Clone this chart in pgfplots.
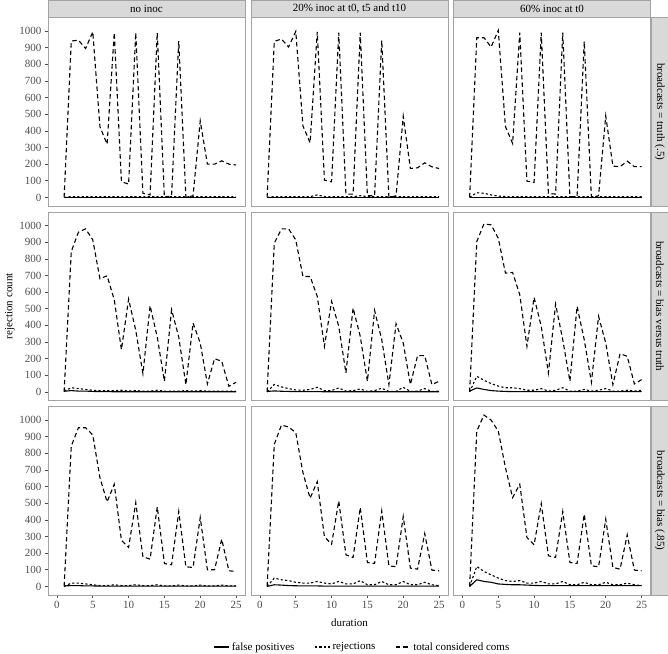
\documentclass[border=0pt]{standalone}
\usepackage{pgfplots}
\pgfplotsset{compat=1.18}
\usepackage{pgfplotstable}
\usepackage{fontspec}
\setmainfont{Liberation Serif}
\definecolor{bordergray}{HTML}{A3A3A3}
\definecolor{stripfill}{HTML}{D9D9D9}
\definecolor{tickgray}{HTML}{4D4D4D}
\newcommand{\fs}{\fontsize{11bp}{13bp}\selectfont}

% columns: d fp rej tot
\pgfplotstableread{
d fp rej tot
1 0 0 0
2 0 5 940
3 0 5 945
4 0 5 895
5 0 5 995
6 0 5 425
7 0 5 320
8 0 5 990
9 0 5 95
10 0 5 80
11 0 5 990
12 0 5 25
13 0 5 15
14 0 5 990
15 0 5 0
16 0 5 10
17 0 5 940
18 0 5 0
19 0 5 10
20 0 5 460
21 0 5 200
22 0 5 200
23 0 5 220
24 0 5 200
25 0 5 195
}\taa
\pgfplotstableread{
d fp rej tot
1 0 0 0
2 0 5 938
3 0 5 952
4 0 5 904
5 0 5 998
6 0 5 430
7 0 5 328
8 0 15 995
9 0 5 104
10 0 5 94
11 0 5 990
12 0 5 20
13 0 5 20
14 0 10 990
15 0 5 10
16 0 5 10
17 0 5 944
18 0 5 0
19 0 5 10
20 0 5 488
21 0 5 174
22 0 5 178
23 0 5 208
24 0 5 184
25 0 5 174
}\tab
\pgfplotstableread{
d fp rej tot
1 0 0 0
2 0 28 960
3 0 25 960
4 0 15 904
5 0 8 1004
6 0 5 426
7 0 5 324
8 0 5 990
9 0 5 98
10 0 5 90
11 0 5 990
12 0 5 24
13 0 5 20
14 0 5 990
15 0 5 5
16 0 5 5
17 0 5 938
18 0 5 0
19 0 5 10
20 0 5 490
21 0 5 188
22 0 5 185
23 0 5 218
24 0 5 185
25 0 5 185
}\tac
\pgfplotstableread{
d fp rej tot
1 4 5 0
2 8 25 844
3 5 20 960
4 5 15 980
5 3 10 914
6 2 8 680
7 2 8 698
8 1 8 554
9 1 10 254
10 1 5 558
11 1 8 370
12 1 5 110
13 1 5 518
14 1 10 330
15 1 5 64
16 1 5 494
17 1 5 330
18 1 8 44
19 1 5 414
20 1 8 294
21 1 5 48
22 1 5 200
23 1 5 184
24 1 5 34
25 1 5 58
}\tba
\pgfplotstableread{
d fp rej tot
1 3 0 0
2 6 45 894
3 4 30 980
4 3 20 980
5 2 12 914
6 2 10 694
7 2 15 694
8 2 28 574
9 1 8 274
10 1 8 544
11 1 24 394
12 1 5 114
13 1 8 504
14 1 18 334
15 1 3 64
16 1 8 490
17 1 22 314
18 1 3 44
19 1 3 410
20 1 28 294
21 1 3 44
22 1 5 218
23 1 20 218
24 1 3 44
25 1 5 64
}\tbb
\pgfplotstableread{
d fp rej tot
1 5 0 0
2 24 94 904
3 15 70 1010
4 8 50 1004
5 5 35 924
6 3 25 714
7 2 25 718
8 2 20 584
9 2 10 274
10 2 10 568
11 2 20 394
12 2 5 114
13 2 10 528
14 2 25 314
15 2 5 64
16 2 5 514
17 2 15 314
18 2 5 58
19 2 10 454
20 2 20 294
21 2 5 44
22 2 5 230
23 2 10 214
24 2 5 48
25 2 10 74
}\tbc
\pgfplotstableread{
d fp rej tot
1 3 0 0
2 5 20 844
3 5 20 954
4 3 15 954
5 3 10 910
6 2 5 654
7 2 5 508
8 2 10 614
9 2 5 278
10 2 5 234
11 2 10 504
12 2 5 178
13 2 5 164
14 2 10 478
15 2 3 138
16 2 3 130
17 2 8 450
18 2 3 118
19 2 3 114
20 2 8 414
21 2 3 100
22 2 3 100
23 2 8 284
24 2 3 94
25 2 3 90
}\tca
\pgfplotstableread{
d fp rej tot
1 0 0 0
2 10 50 854
3 8 40 970
4 5 35 958
5 4 25 924
6 3 20 684
7 3 20 530
8 3 30 630
9 2 20 298
10 2 15 254
11 2 30 514
12 2 15 190
13 2 15 174
14 2 35 474
15 2 10 144
16 2 10 138
17 2 30 454
18 2 10 124
19 2 10 118
20 2 30 420
21 2 10 110
22 2 10 104
23 2 25 318
24 2 10 98
25 2 5 94
}\tcb
\pgfplotstableread{
d fp rej tot
1 0 0 0
2 40 120 934
3 30 90 1030
4 25 70 1000
5 15 50 934
6 12 35 714
7 10 30 534
8 10 35 614
9 8 20 294
10 6 20 250
11 5 30 498
12 5 15 184
13 5 15 174
14 5 30 450
15 5 10 144
16 5 10 138
17 5 25 434
18 5 10 124
19 5 10 118
20 5 25 404
21 5 10 114
22 5 10 104
23 5 20 310
24 5 10 98
25 5 5 94
}\tcc

\pgfplotsset{
  panel/.style={
    scale only axis, width=197bp, height=188.5bp, anchor=south west,
    xmin=-1.25, xmax=26.25, ymin=-51.5, ymax=1081.5,
    axis line style={draw=bordergray, line width=0.7bp},
    tick align=outside, major tick length=3bp,
    xtick={0,5,...,25}, ytick={0,100,...,1000},
    xtick pos=lower, ytick pos=left,
    tick style={draw=tickgray, line width=0.6bp},
    ticklabel style={font=\fs, text=tickgray},
    /pgf/number format/assume math mode=true,
    /pgf/number format/1000 sep={},
    every axis title/.style={at={(0.5,1)}, anchor=south, fill=stripfill, draw=bordergray,
      line width=0.7bp, minimum width=197bp, minimum height=17bp, inner sep=0pt, font=\fs},
  },
  noxl/.style={xticklabels={}, xtick style={draw=none}},
  noyl/.style={yticklabels={}, ytick style={draw=none}},
  rstrip/.style={after end axis/.code={
    \node[rotate=-90, anchor=south, fill=stripfill, draw=bordergray, line width=0.7bp,
      minimum width=188.5bp, minimum height=18bp, inner sep=0pt, font=\fs]
      at (rel axis cs:1,0.5) {#1};}},
  fpst/.style={black, line width=1.1bp, solid, line join=round},
  rejst/.style={black, line width=1.1bp, dash pattern=on 2.2bp off 2.2bp},
  totst/.style={black, line width=1.1bp, dash pattern=on 4.5bp off 3bp},
}
\newcommand{\panel}[1]{%
  \addplot[fpst] table[x=d,y=fp]{#1};
  \addplot[rejst] table[x=d,y=rej]{#1};
  \addplot[totst] table[x=d,y=tot]{#1};
}

\begin{document}
\begin{tikzpicture}
\useasboundingbox (0,0) rectangle (668bp,654bp);
% row 1
\begin{axis}[panel, at={(48bp,448bp)}, noxl, title={no inoc}]
\panel{\taa}
\end{axis}
\begin{axis}[panel, at={(251bp,448bp)}, noxl, noyl, title={20\% inoc at t0, t5 and t10}]
\panel{\tab}
\end{axis}
\begin{axis}[panel, at={(453.5bp,448bp)}, noxl, noyl, title={60\% inoc at t0}, rstrip={broadcasts = truth (.5)}]
\panel{\tac}
\end{axis}
% row 2
\begin{axis}[panel, at={(48bp,253.5bp)}, noxl, ylabel={rejection count},
  every axis y label/.style={at={(axis description cs:-0.193,0.5)}, rotate=90, anchor=center, font=\fs}]
\panel{\tba}
\end{axis}
\begin{axis}[panel, at={(251bp,253.5bp)}, noxl, noyl]
\panel{\tbb}
\end{axis}
\begin{axis}[panel, at={(453.5bp,253.5bp)}, noxl, noyl, rstrip={broadcasts = bias versus truth}]
\panel{\tbc}
\end{axis}
% row 3
\begin{axis}[panel, at={(48bp,59bp)}]
\panel{\tca}
\end{axis}
\begin{axis}[panel, at={(251bp,59bp)}, noyl, xlabel={duration},
  every axis x label/.style={at={(axis description cs:0.5,-0.1485)}, anchor=center, font=\fs},
  legend style={at={(axis description cs:0.566,-0.276)}, anchor=center, draw=none, fill=none,
    font=\fs, legend columns=3, /tikz/every even column/.append style={column sep=18bp}},
  legend image code/.code={\draw[#1] (0bp,0bp) -- (15bp,0bp);}]
\panel{\tcb}
\legend{false positives, rejections, total considered coms}
\end{axis}
\begin{axis}[panel, at={(453.5bp,59bp)}, noyl, rstrip={broadcasts = bias (.85)}]
\panel{\tcc}
\end{axis}
\end{tikzpicture}
\end{document}
